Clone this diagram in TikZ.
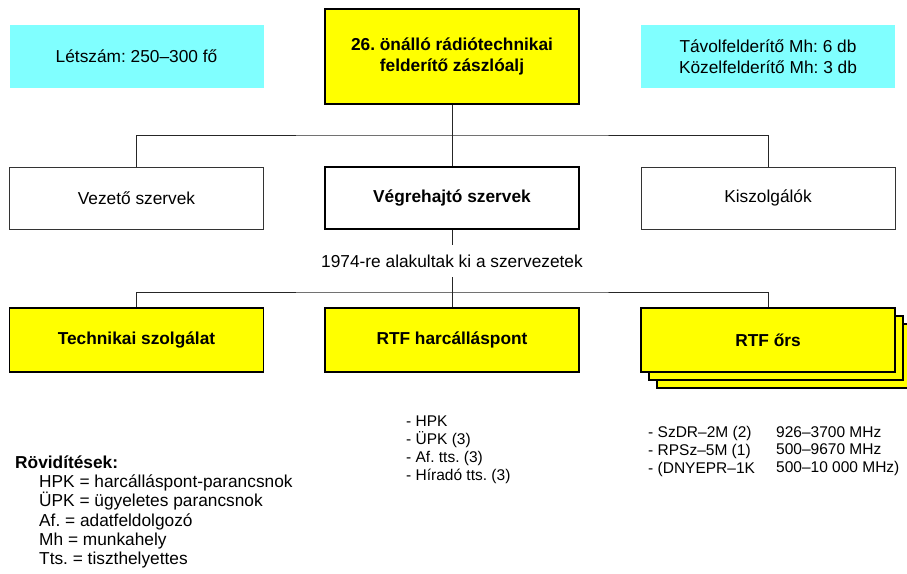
\documentclass[tikz,border=0pt]{standalone}
\usepackage{fontspec}
\setmainfont{Liberation Sans}
\frenchspacing
\definecolor{felyellow}{HTML}{FFFF00}
\definecolor{felcyan}{HTML}{80FFFF}
\newcommand\boxfont{\fontsize{17.3}{20.5}\selectfont}
\newcommand\listfont{\fontsize{15.5}{17.8}\selectfont}
\newcommand\abbrfont{\fontsize{17.3}{19.3}\selectfont}
\tikzset{
	unit/.style={minimum width=254pt, inner sep=0pt, font=\boxfont, align=center},
	infobox/.style={unit, fill=felcyan, minimum height=63pt},
	headbox/.style={unit, fill=felyellow, draw=black, line width=1.8pt, font=\boxfont\bfseries},
	plainbox/.style={unit, draw=black!80, line width=0.9pt, minimum height=62pt},
	link/.style={draw=black!85, line width=0.9pt},
	listtext/.style={font=\listfont, align=left, inner sep=0pt},
}
\begin{document}
\begin{tikzpicture}[x=1pt,y=1pt]
	\useasboundingbox (0,0) rectangle (907,573);
	% felso sor
	\node[infobox] (letszam) at (136.5,516.5) {Létszám: 250–300 fő};
	\node[headbox, minimum height=95pt] (zaszloalj) at (452,516.5) {26. önálló rádiótechnikai\\felderítő zászlóalj};
	\node[infobox] (mh) at (768,516.5) {Távolfelderítő Mh: 6 db\\Közelfelderítő Mh: 3 db};
	% szervek
	\node[plainbox] (vezeto) at (136.5,375) {Vezető szervek};
	\node[plainbox, draw=black, line width=1.8pt, font=\boxfont\bfseries] (vegrehajto) at (452,375) {Végrehajtó szervek};
	\node[plainbox] (kiszolgalok) at (768,375) {Kiszolgálók};
	\node[font=\boxfont, minimum height=32pt, inner sep=0pt] (alakult) at (452,312) {1974-re alakultak ki a szervezetek};
	% vegrehajto szervek
	\node[headbox, minimum height=64pt] (technikai) at (136.5,233) {Technikai szolgálat};
	\node[headbox, minimum height=64pt] (harcallas) at (452,233) {RTF harcálláspont};
	\node[headbox, minimum height=64pt] (orsc) at (784,217) {};
	\node[headbox, minimum height=64pt] (orsb) at (776,225) {};
	\node[headbox, minimum height=64pt] (ors) at (768,233) {RTF őrs};
	\coordinate (felso) at (452,438);
	\coordinate (also) at (452,281);
	\draw[link] (zaszloalj) -- (felso);
	\draw[link] (vezeto.north) |- (felso) -| (kiszolgalok.north);
	\draw[link] (felso) -- (vegrehajto);
	\draw[link] (vegrehajto) -- (alakult);
	\draw[link] (alakult) -- (also);
	\draw[link] (technikai.north) |- (also) -| (ors.north);
	\draw[link] (also) -- (harcallas);
	% listak
	\node[listtext, anchor=north west] (hpklista) at (406,157) {- HPK\\- ÜPK (3)\\- Af. tts. (3)\\- Híradó tts. (3)};
	\node[listtext, anchor=north west] (orsnevek) at (648,147) {- SzDR–2M (2)\\- RPSz–5M (1)\\- (DNYEPR–1K};
	\node[listtext, anchor=north west] (orsfrekv) at (776,147) {926–3700 MHz\\500–9670 MHz\\500–10 000 MHz)};
	\node[font=\boxfont\bfseries, anchor=base west, inner sep=0pt] (rovid) at (15,105) {Rövidítések:};
	\node[listtext, font=\abbrfont, anchor=north west] (rovidlista) at (39,98.4) {HPK = harcálláspont-parancsnok\\ÜPK = ügyeletes parancsnok\\Af. = adatfeldolgozó\\Mh = munkahely\\Tts. = tiszthelyettes};
\end{tikzpicture}
\end{document}
